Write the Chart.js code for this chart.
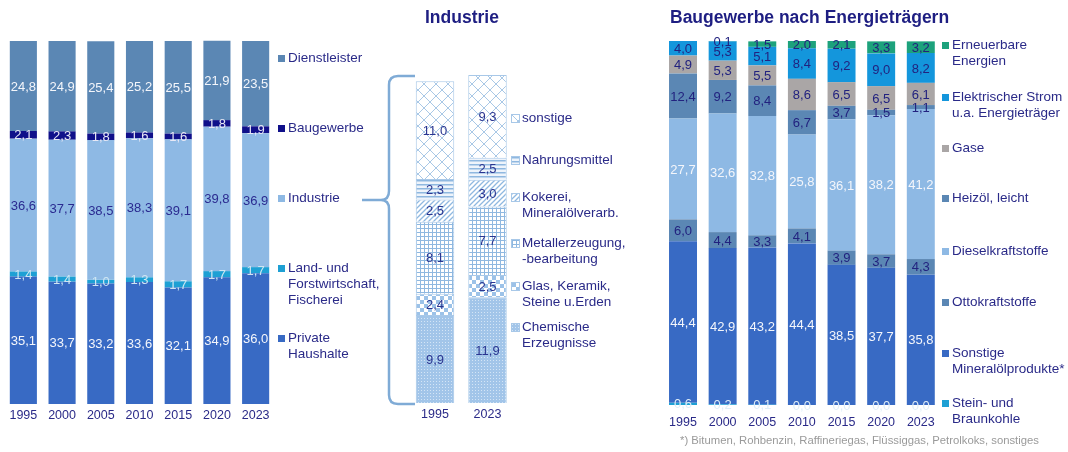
<!DOCTYPE html>
<html lang="de">
<head>
<meta charset="utf-8">
<title>Endenergieverbrauch</title>
<script src="https://cdn.jsdelivr.net/npm/chart.js@4.4.1/dist/chart.umd.min.js"></script>
<style>
  html, body { margin: 0; padding: 0; background: #fff; }
  body { width: 1068px; height: 452px; position: relative; overflow: hidden;
         font-family: "Liberation Sans", Arial, sans-serif; color: #2a2a88; }
  canvas { position: absolute; top: 0; }
  .title { position: absolute; top: 7px; font-weight: bold; font-size: 17.5px; color: #1e1e82; white-space: nowrap; }
  .legend { position: absolute; top: 0; font-size: 13.5px; line-height: 16px; }
  .item { position: absolute; left: 0; padding-left: 10px; white-space: nowrap; }
  .item i { position: absolute; left: 0; top: 5px; width: 7px; height: 7px; }
  .note { position: absolute; left: 680px; top: 434px; font-size: 11.3px; color: #9a9a9a; white-space: nowrap; }
  svg { position: absolute; left: 0; top: 0; }
</style>
</head>
<body>
<canvas id="sectors" width="280" height="434" style="left:0px"></canvas>
<canvas id="industry" width="120" height="434" style="left:400px"></canvas>
<canvas id="construction" width="290" height="447" style="left:655px"></canvas>

<div class="title" style="left:425px">Industrie</div>
<div class="title" style="left:670px">Baugewerbe nach Energieträgern</div>

<div class="legend" id="legend-sectors" style="left:278px"></div>
<div class="legend" id="legend-industry" style="left:512px"></div>
<div class="legend" id="legend-construction" style="left:942px"></div>

<div class="note">*) Bitumen, Rohbenzin, Raffineriegas, Flüssiggas, Petrolkoks, sonstiges</div>

<svg width="1068" height="452">
  <path d="M415,76 L398,76 Q389,76 389,85 L389,191 Q389,200 381,200 Q389,200 389,209 L389,395 Q389,404 398,404 L415,404 M362,200 L381,200"
        fill="none" stroke="#7fabd6" stroke-width="2.5"/>
</svg>

<script>
const years = ['1995', '2000', '2005', '2010', '2015', '2020', '2023'];

// Endenergieverbrauch nach Sektoren, Anteile in %
const privateHaushalte = [35.1, 33.7, 33.2, 33.6, 32.1, 34.9, 36.0];
const landForst = [1.4, 1.4, 1.0, 1.3, 1.7, 1.7, 1.7];
const industrie = [36.6, 37.7, 38.5, 38.3, 39.1, 39.8, 36.9];
const baugewerbe = [2.1, 2.3, 1.8, 1.6, 1.6, 1.8, 1.9];
const dienstleister = [24.8, 24.9, 25.4, 25.2, 25.5, 21.9, 23.5];

// Industrie nach Branchen
const industrieYears = ['1995', '2023'];
const chemie = [9.9, 11.9];
const glasKeramik = [2.4, 2.5];
const metall = [8.1, 7.7];
const kokerei = [2.5, 3.0];
const nahrung = [2.3, 2.5];
const sonstigeIndustrie = [11.0, 9.3];

// Baugewerbe nach Energietraegern
const kohle = [0.6, 0.2, 0.1, 0.0, 0.0, 0.0, 0.0];
const sonstigeMineraloel = [44.4, 42.9, 43.2, 44.4, 38.5, 37.7, 35.8];
const otto = [6.0, 4.4, 3.3, 4.1, 3.9, 3.7, 4.3];
const diesel = [27.7, 32.6, 32.8, 25.8, 36.1, 38.2, 41.2];
const heizoel = [12.4, 9.2, 8.4, 6.7, 3.7, 1.5, 1.1];
const gase = [4.9, 5.3, 5.5, 8.6, 6.5, 6.5, 6.1];
const strom = [4.0, 5.3, 5.1, 8.4, 9.2, 9.0, 8.2];
const erneuerbare = [null, 0.1, 1.5, 2.0, 2.1, 3.3, 3.2];

const FONT = '"Liberation Sans", Arial, sans-serif';
const NAVY = '#2a2a88';
const WHITE = '#f4f6fb';

const fmt = (v) => v.toFixed(1).replace('.', ',');

// draws the value in the middle of each stacked segment
const valueLabels = {
  id: 'valueLabels',
  afterDatasetsDraw(chart) {
    const ctx = chart.ctx;
    ctx.save();
    ctx.font = '13px ' + FONT;
    ctx.textAlign = 'center';
    ctx.textBaseline = 'middle';
    chart.data.datasets.forEach((ds, i) => {
      const meta = chart.getDatasetMeta(i);
      meta.data.forEach((bar, j) => {
        const v = ds.data[j];
        if (v === null || v === undefined) return;
        const p = bar.getProps(['x', 'y', 'base'], true);
        ctx.fillStyle = ds.labelColor || NAVY;
        ctx.fillText(fmt(v), p.x, (p.y + p.base) / 2 + 1);
      });
    });
    ctx.restore();
  }
};

function stackOptions(padding, tickPad, max) {
  return {
    responsive: false,
    animation: false,
    layout: { padding: padding },
    plugins: { legend: { display: false }, tooltip: { enabled: false } },
    scales: {
      x: {
        stacked: true,
        grid: { display: false, drawTicks: false },
        border: { display: false },
        ticks: { color: NAVY, padding: tickPad, font: { family: FONT, size: 12.5 } }
      },
      y: { stacked: true, display: false, min: 0, max: max }
    }
  };
}

function fillLegend(id, datasets, tops, swatch) {
  const box = document.getElementById(id);
  datasets.forEach((ds, i) => {
    const el = document.createElement('div');
    el.className = 'item';
    el.style.top = tops[i] + 'px';
    const mark = document.createElement('i');
    swatch(mark, ds);
    el.appendChild(mark);
    el.insertAdjacentHTML('beforeend', ds.legendText || ds.label);
    box.appendChild(el);
  });
}

// --- Sektoren ---
const sectorSets = [
  { label: 'Private Haushalte', legendText: 'Private<br>Haushalte', data: privateHaushalte, backgroundColor: '#386ac4', labelColor: WHITE },
  { label: 'Land- und Forstwirtschaft, Fischerei', legendText: 'Land- und<br>Forstwirtschaft,<br>Fischerei', data: landForst, backgroundColor: '#1ea0d4', labelColor: '#cfe6f2' },
  { label: 'Industrie', data: industrie, backgroundColor: '#8eb9e4', labelColor: '#2a2a90' },
  { label: 'Baugewerbe', data: baugewerbe, backgroundColor: '#10108a', labelColor: '#e8e8f5' },
  { label: 'Dienstleister', data: dienstleister, backgroundColor: '#5b87b4', labelColor: WHITE }
].map((d) => Object.assign(d, { barPercentage: 0.7, categoryPercentage: 1, clip: false }));

new Chart(document.getElementById('sectors'), {
  type: 'bar',
  data: { labels: years, datasets: sectorSets },
  options: stackOptions({ left: 4, right: 5, top: 41, bottom: 7 }, 4, 100),
  plugins: [valueLabels]
});
fillLegend('legend-sectors', sectorSets.slice().reverse(), [50, 120, 190, 260, 330],
  (m, ds) => { m.style.background = ds.backgroundColor; });

// --- Industrie (Muster) ---
function makeTile(size, draw) {
  const c = document.createElement('canvas');
  c.width = size; c.height = size;
  const g = c.getContext('2d');
  g.fillStyle = '#ffffff';
  g.fillRect(0, 0, size, size);
  draw(g, size);
  return c;
}
const LINE = '#8fb8e0';
const tiles = {
  chemie: makeTile(3, (g, s) => {
    g.fillStyle = '#a2c5e9'; g.fillRect(0, 0, s, s);
    g.fillStyle = '#d4e5f6'; g.fillRect(0, 0, 1, 1);
  }),
  glas: makeTile(8, (g) => {
    g.fillStyle = '#9cc2e8'; g.fillRect(0, 0, 4, 4); g.fillRect(4, 4, 4, 4);
  }),
  metall: makeTile(4, (g) => {
    g.fillStyle = LINE; g.fillRect(0, 0, 4, 1); g.fillRect(0, 0, 1, 4);
  }),
  kokerei: makeTile(5, (g, s) => {
    g.strokeStyle = LINE; g.lineWidth = 1.3;
    g.beginPath();
    g.moveTo(-1, s + 1); g.lineTo(s + 1, -1);
    g.moveTo(-1, 1); g.lineTo(1, -1);
    g.moveTo(s - 1, s + 1); g.lineTo(s + 1, s - 1);
    g.stroke();
  }),
  nahrung: makeTile(4, (g) => {
    g.fillStyle = '#eef4fb'; g.fillRect(0, 0, 4, 4);
    g.fillStyle = LINE; g.fillRect(0, 0, 4, 1.5);
  }),
  sonstige: makeTile(12, (g, s) => {
    g.strokeStyle = '#a9c8e6'; g.lineWidth = 1;
    g.beginPath();
    g.moveTo(0, s); g.lineTo(s, 0);
    g.moveTo(0, 0); g.lineTo(s, s);
    g.stroke();
  })
};

const industryCanvas = document.getElementById('industry');
const ictx = industryCanvas.getContext('2d');
const pat = (t) => ictx.createPattern(t, 'repeat');

const industrySets = [
  { label: 'Chemische Erzeugnisse', legendText: 'Chemische<br>Erzeugnisse', data: chemie, tile: tiles.chemie },
  { label: 'Glas, Keramik, Steine u.Erden', legendText: 'Glas, Keramik,<br>Steine u.Erden', data: glasKeramik, tile: tiles.glas },
  { label: 'Metallerzeugung, -bearbeitung', legendText: 'Metallerzeugung,<br>-bearbeitung', data: metall, tile: tiles.metall },
  { label: 'Kokerei, Mineralölverarb.', legendText: 'Kokerei,<br>Mineralölverarb.', data: kokerei, tile: tiles.kokerei },
  { label: 'Nahrungsmittel', data: nahrung, tile: tiles.nahrung },
  { label: 'sonstige', data: sonstigeIndustrie, tile: tiles.sonstige }
].map((d) => Object.assign(d, {
  backgroundColor: pat(d.tile), borderColor: '#a8c8e8', borderWidth: 1,
  barPercentage: 0.733, categoryPercentage: 1, labelColor: '#2a3590'
}));

new Chart(industryCanvas, {
  type: 'bar',
  data: { labels: industrieYears, datasets: industrySets },
  options: stackOptions({ left: 8.75, right: 6.25, top: 47.4, bottom: 8 }, 4, 40),
  plugins: [valueLabels]
});
fillLegend('legend-industry', industrySets.slice().reverse(), [110, 152, 189, 235, 278, 319],
  (m, ds) => { m.style.backgroundImage = 'url(' + ds.tile.toDataURL() + ')'; m.style.outline = '1px solid #a8c8e8'; });

// --- Baugewerbe nach Energietraegern ---
const constructionSets = [
  { label: 'Stein- und Braunkohle', legendText: 'Stein- und<br>Braunkohle', data: kohle, backgroundColor: '#1ea0d4', labelColor: '#dfeef8' },
  { label: 'Sonstige Mineralölprodukte*', legendText: 'Sonstige<br>Mineralölprodukte*', data: sonstigeMineraloel, backgroundColor: '#386ac4', labelColor: WHITE },
  { label: 'Ottokraftstoffe', data: otto, backgroundColor: '#5b87b4', labelColor: '#22227f' },
  { label: 'Dieselkraftstoffe', data: diesel, backgroundColor: '#8eb9e4', labelColor: WHITE },
  { label: 'Heizöl, leicht', data: heizoel, backgroundColor: '#5b87b4', labelColor: '#22227f' },
  { label: 'Gase', data: gase, backgroundColor: '#aaa6a6', labelColor: '#22227f' },
  { label: 'Elektrischer Strom u.a. Energieträger', legendText: 'Elektrischer Strom<br>u.a. Energieträger', data: strom, backgroundColor: '#1496dc', labelColor: '#22227f' },
  { label: 'Erneuerbare Energien', legendText: 'Erneuerbare<br>Energien', data: erneuerbare, backgroundColor: '#1da27c', labelColor: '#22227f' }
].map((d) => Object.assign(d, { barPercentage: 0.706, categoryPercentage: 1, clip: false }));

new Chart(document.getElementById('construction'), {
  type: 'bar',
  data: { labels: years, datasets: constructionSets },
  options: stackOptions({ left: 8.2, right: 4.2, top: 41, bottom: 7 }, 10, 100),
  plugins: [valueLabels]
});
fillLegend('legend-construction', constructionSets.slice().reverse(), [37, 89, 140, 190, 243, 294, 345, 395],
  (m, ds) => { m.style.background = ds.backgroundColor; });
</script>
</body>
</html>
